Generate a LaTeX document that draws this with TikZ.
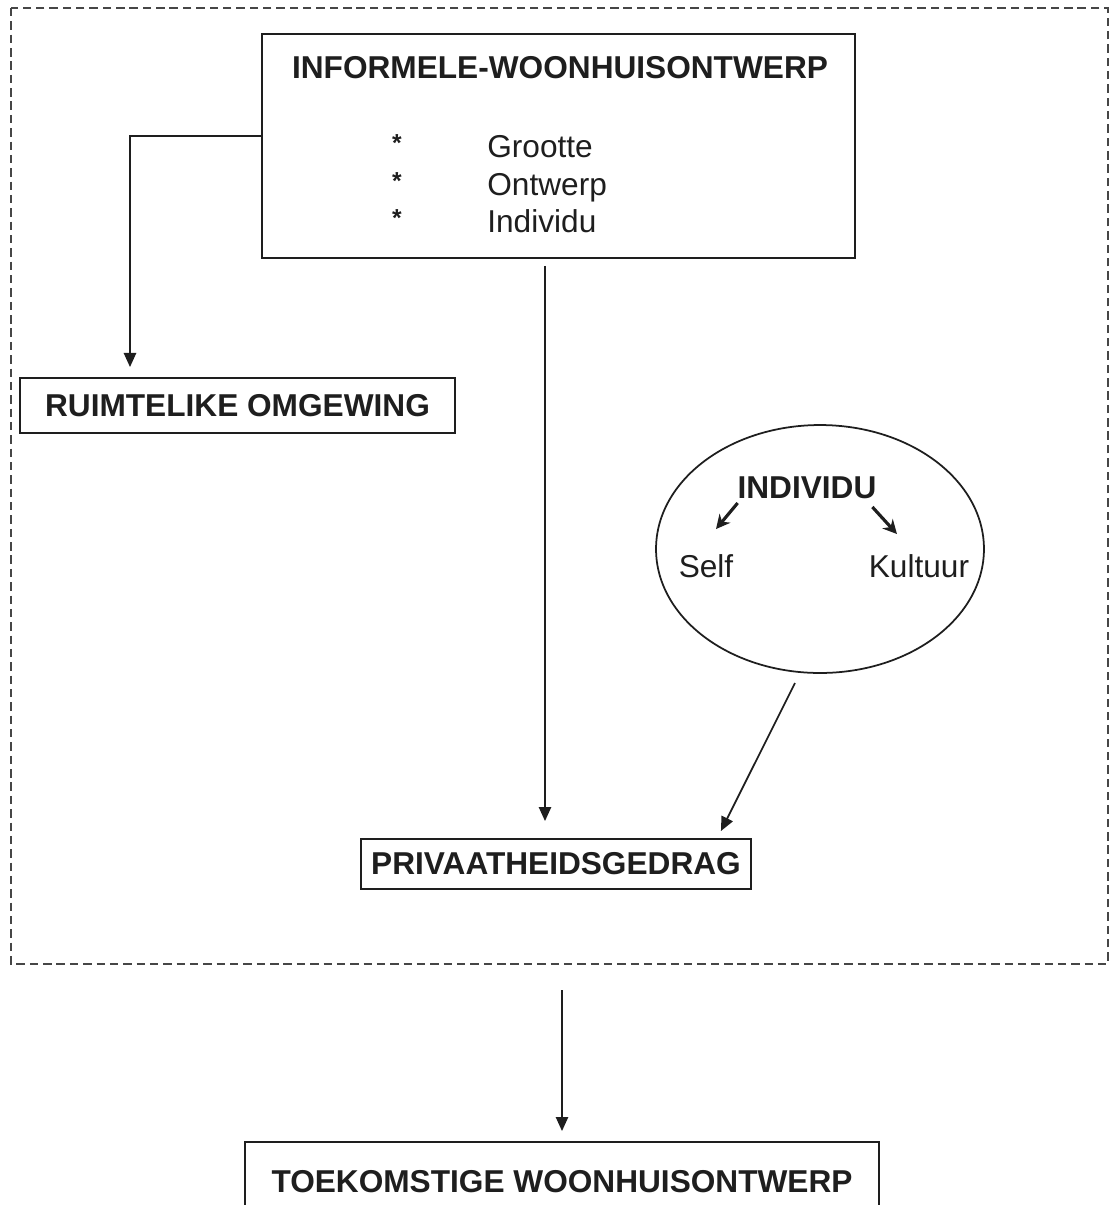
\documentclass[tikz,border=0pt]{standalone}
\usepackage{fontspec}
\setmainfont{Liberation Sans}
\usepackage{tikz}
\usetikzlibrary{arrows.meta, calc, shapes.geometric}
\definecolor{inkgray}{RGB}{30,30,30}
\definecolor{framegray}{RGB}{70,70,70}

\begin{document}
\begin{tikzpicture}[x=0.02cm, y=-0.02cm, >=Triangle,
  box/.style={draw=inkgray, line width=1.1pt, inner sep=0pt, font=\fontsize{18}{21}\selectfont\bfseries, text=inkgray},
  item/.style={inner sep=0pt, font=\fontsize{18}{21}\selectfont, text=inkgray, anchor=base west},
  arr/.style={->, draw=inkgray, line width=1pt, >={Triangle[width=7pt, length=8pt]}},
  arrbold/.style={->, draw=inkgray, line width=1.8pt, >={Stealth[width=8pt, length=8pt]}}]

\useasboundingbox (0,0) rectangle (1116,1205);
\clip (0,0) rectangle (1116,1205);

% dashed frame
\draw[framegray, line width=1.4pt, dash pattern=on 4.8pt off 2.8pt] (11,8) rectangle (1108,964);

% informal house design
\node[box, minimum width=11.86cm, minimum height=4.48cm] (info) at (558.5,146) {};
\node[box, draw=none] (infotitle) at (560,68) {INFORMELE-WOONHUISONTWERP};
\foreach \y/\txt in {146/Grootte, 184/Ontwerp, 221/Individu} {
  \node[inner sep=0pt, font=\fontsize{14}{14}\selectfont\bfseries, text=inkgray] (star\y) at (397,\y-3) {*};
  \node[item] (item\y) at (487,\y+11) {\txt};
}

\node[box, minimum width=8.7cm, minimum height=1.1cm] (ruim) at (237.5,405.5) {RUIMTELIKE OMGEWING};
\node[box, minimum width=7.8cm, minimum height=1.0cm] (priv) at (556,864) {PRIVAATHEIDSGEDRAG};
\node[box, minimum width=12.7cm, minimum height=1.6cm] (toek) at (562,1182) {TOEKOMSTIGE WOONHUISONTWERP};

% individual
\node[ellipse, draw=inkgray, line width=1pt, minimum width=6.56cm, minimum height=4.96cm] (indell) at (820,549) {};
\node[box, draw=none] (indv) at (807,488) {INDIVIDU};
\node[item, anchor=center] (self) at (706,566) {Self};
\node[item, anchor=center] (kult) at (919,566) {Kultuur};
\draw[arrbold] ($(indv.south west)+(1,3)$) -- ($(self.north)+(10,-25)$);
\draw[arrbold] ($(indv.south east)+(-5,7)$) -- ($(kult.north)+(-22,-20)$);

% connectors
\coordinate (bend) at (130,136);
\draw[arr, shorten >=0.2cm] (bend -| info.west) -| (bend |- ruim.north);
\draw[arr, shorten <=0.14cm, shorten >=0.34cm] (545,0 |- info.south) -- (545,0 |- priv.north);
\coordinate (indout) at (795,683);
\draw[arr] (indout) -- ($(priv.north east)+(-31,-7)$);
\coordinate (frameout) at (toek.north |- 0,990);
\draw[arr, shorten >=0.2cm] (frameout) -- (toek.north);

\end{tikzpicture}
\end{document}
